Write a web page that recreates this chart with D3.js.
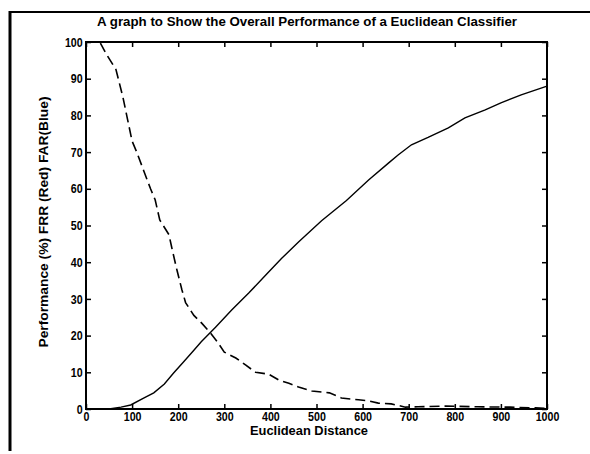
<!DOCTYPE html>
<meta http-equiv="Content-type" content="text/html; charset=UTF-8"/>
<style>
  body { margin: 0; background: #fff; }
  * { font-family: 'Liberation Sans Narrow', 'Arial Narrow', 'Liberation Sans', Arial, sans-serif; }
</style>
<svg width="590" height="454"></svg>
<script src="https://d3js.org/d3.v7.min.js"></script>
<script>
// FAR (solid) and FRR (dashed)
var farDist = [0, 50, 76, 97, 126, 147, 170, 190, 210, 234, 250, 281, 316, 353, 390, 424, 461, 511, 565, 613, 656, 677, 706, 742, 786, 822, 866, 900, 944, 1000];
var farVals = [0, 0, 0.5, 1.1, 3, 4.4, 6.8, 9.8, 12.6, 16, 18.3, 22.3, 27, 31.6, 36.5, 41, 45.5, 51.3, 56.8, 62.4, 67, 69.2, 72, 74, 76.6, 79.3, 81.5, 83.4, 85.6, 88];

var frrDist = [0, 30, 45, 65, 80, 90, 100, 110, 125, 140, 150, 160, 180, 186, 197, 208, 216, 234, 251, 270, 285, 300, 325, 346, 368, 396, 418, 440, 461, 490, 528, 554, 591, 613, 634, 662, 693, 720, 780, 850, 920, 975, 1000];
var frrVals = [100, 100, 96.5, 92.5, 85, 79, 73, 70, 65, 60, 57, 51.5, 47.5, 44, 38, 32.5, 29, 25.5, 23.4, 20.7, 18.3, 15.5, 13.9, 12, 10, 9.5, 7.9, 7, 6, 4.9, 4.4, 3, 2.5, 2.2, 1.6, 1.4, 0.5, 0.6, 0.8, 0.6, 0.5, 0.3, 0.2];

var xTicks = [0, 100, 200, 300, 400, 500, 600, 700, 800, 900, 1000];
var yTicks = [0, 10, 20, 30, 40, 50, 60, 70, 80, 90, 100];

var svg = d3.select("svg"),
    margin = {top: 42, right: 43, bottom: 45, left: 86},
    width = +svg.attr("width") - margin.left - margin.right,
    height = +svg.attr("height") - margin.top - margin.bottom,
    g = svg.append("g").attr("transform", "translate(" + margin.left + "," + margin.top + ")");

// scanned page frame (top and left edges only)
svg.append("line").attr("x1", 9).attr("x2", 590).attr("y1", 12).attr("y2", 12)
    .attr("stroke", "#000").attr("stroke-width", 2);
svg.append("line").attr("x1", 10).attr("x2", 10).attr("y1", 11).attr("y2", 451)
    .attr("stroke", "#000").attr("stroke-width", 3);

var x = d3.scaleLinear().domain([0, 1000]).range([0, width]);
var y = d3.scaleLinear().domain([0, 100]).range([height, 0]);

var line = d3.line()
    .x(function(d) { return x(d[0]); })
    .y(function(d) { return y(d[1]); });

var far = farDist.map(function(d, i) { return [d, farVals[i]]; });
var frr = frrDist.map(function(d, i) { return [d, frrVals[i]]; });

// condensed, bold tick labels like the scanned matlab figure
function styleAxis(sel, labels) {
  sel.select(".domain").remove();
  sel.selectAll("line").attr("stroke", "#000").attr("stroke-width", 1.5);
  if (!labels) { sel.selectAll("text").remove(); return; }
  sel.selectAll("text")
      .attr("fill", "#000")
      .attr("transform", "scale(0.82,1)")
      .style("font-size", "13px")
      .style("font-weight", "bold");
}

g.append("g")
    .attr("transform", "translate(0," + height + ")")
    .call(d3.axisBottom(x).tickValues(xTicks).tickFormat(d3.format("d"))
      .tickSizeInner(-5).tickSizeOuter(0).tickPadding(3))
    .call(styleAxis, true);

g.append("g")
    .call(d3.axisTop(x).tickValues(xTicks).tickSizeInner(-5).tickSizeOuter(0))
    .call(styleAxis, false);

g.append("g")
    .call(d3.axisLeft(y).tickValues(yTicks).tickSizeInner(-5).tickSizeOuter(0).tickPadding(4))
    .call(styleAxis, true);

g.append("g")
    .attr("transform", "translate(" + width + ",0)")
    .call(d3.axisRight(y).tickValues(yTicks).tickSizeInner(-5).tickSizeOuter(0))
    .call(styleAxis, false);

g.append("rect")
    .attr("width", width)
    .attr("height", height)
    .attr("fill", "none")
    .attr("stroke", "#000")
    .attr("stroke-width", 2);

g.append("path")
    .datum(far)
    .attr("fill", "none")
    .attr("stroke", "#000")
    .attr("stroke-width", 1.4)
    .attr("d", line);

g.append("path")
    .datum(frr)
    .attr("fill", "none")
    .attr("stroke", "#000")
    .attr("stroke-width", 1.6)
    .attr("stroke-dasharray", "10,5")
    .attr("d", line);

svg.append("text")
    .attr("x", 307)
    .attr("y", 26)
    .attr("text-anchor", "middle")
    .attr("textLength", 420)
    .attr("lengthAdjust", "spacingAndGlyphs")
    .style("font-size", "13px")
    .style("font-weight", "bold")
    .text("A graph to Show the Overall Performance of a Euclidean Classifier");

svg.append("text")
    .attr("x", 309)
    .attr("y", 435)
    .attr("text-anchor", "middle")
    .attr("textLength", 118)
    .attr("lengthAdjust", "spacingAndGlyphs")
    .style("font-size", "12px")
    .style("font-weight", "bold")
    .text("Euclidean Distance");

svg.append("text")
    .attr("transform", "translate(48,222) rotate(-90)")
    .attr("text-anchor", "middle")
    .attr("textLength", 251)
    .attr("lengthAdjust", "spacingAndGlyphs")
    .style("font-size", "12px")
    .style("font-weight", "bold")
    .text("Performance (%) FRR (Red) FAR(Blue)");
</script>
